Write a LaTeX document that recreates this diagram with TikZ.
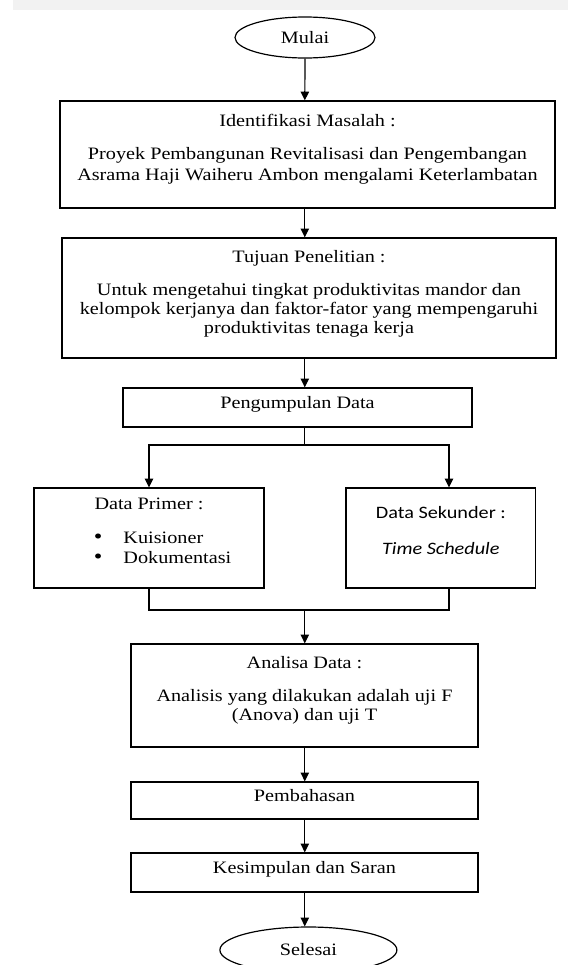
\documentclass[tikz,border=0pt]{standalone}
\usepackage{fontspec}
\setmainfont{Liberation Serif}[FakeStretch=1.16]
\newfontfamily\calibri{Carlito}[FakeStretch=1.16]
\usetikzlibrary{arrows.meta,positioning,shapes.geometric}

\newcommand{\butir}{\makebox[0.74cm][l]{\fontsize{15}{15}\selectfont •}}

\begin{document}
\begin{tikzpicture}[
    x=1cm,
    y=1cm,
    >={Triangle[length=2.2mm,width=2.1mm]},
    box/.style={draw, line width=0.85pt, inner sep=0pt, minimum height=1cm},
    term/.style={draw, ellipse, line width=0.85pt, inner sep=0pt, minimum width=3.5cm, minimum height=1.025cm, font=\fontsize{12.4}{14}\selectfont},
    txt/.style={align=center, inner sep=0pt, font=\fontsize{12.4}{13.8}\selectfont},
    single/.style={box, txt, minimum width=8.675cm, text depth=0.25cm},
    line/.style={->, line width=0.85pt},
    link/.style={line width=0.85pt}
]
\useasboundingbox (0,0) rectangle (14.2,-24.125);
\clip (0,0) rectangle (14.2,-24.125);
\fill[black!5] (0.33,0) rectangle (14.2,-0.25);

\coordinate (spine) at (7.62,0);
\coordinate (rightx) at (11.225,0);
\node[term] (mulai) at (7.625,-0.9375) {Mulai};
\node[box, minimum width=12.375cm, minimum height=2.675cm] (masalah) at (7.6875,-3.8625) {};
\node[txt, below=0.33cm of masalah.north] (masalahtxt) {Identifikasi Masalah :\\[10pt]Proyek Pembangunan Revitalisasi dan Pengembangan\\[1pt]Asrama Haji Waiheru Ambon mengalami Keterlambatan};
\node[box, minimum width=12.35cm, minimum height=3cm] (tujuan) at (7.725,-7.45) {};
\node[txt, below=0.33cm of tujuan.north] (tujuantxt) {Tujuan Penelitian :\\[9pt]Untuk mengetahui tingkat produktivitas mandor dan\\kelompok kerjanya dan faktor-fator yang mempengaruhi\\produktivitas tenaga kerja};
\node[single, minimum width=8.725cm, minimum height=0.975cm] (kumpul) at (7.4375,-10.1875) {Pengumpulan Data};
\coordinate (split) at (7.62,-11.125);
% dua sumber data
\node[box, minimum width=5.75cm, minimum height=2.5cm] (primer) at (3.725,-13.45) {};
\node[txt, below=0.25cm of primer.north] (primertxt) {Data Primer :};
\node[txt, align=left, anchor=north west] (primerlist) at (2.34,-13.3) {\butir Kuisioner\\\butir Dokumentasi};
\node[box, minimum width=4.74cm, minimum height=2.5cm] (sekunder) at (11.02,-13.45) {};
\node[txt, font=\calibri\fontsize{12.4}{14}\selectfont, below=0.48cm of sekunder.north] (sekundertxt) {Data Sekunder :\\[11pt]\textit{Time Schedule}};
\coordinate (merge) at (7.62,-15.25);
\node[box, minimum width=8.675cm, minimum height=2.575cm] (analisa) at (7.6125,-17.3875) {};
\node[txt, below=0.33cm of analisa.north] (analisatxt) {Analisa Data :\\[9pt]Analisis yang dilakukan adalah uji F\\(Anova) dan uji T};
\node[single, minimum height=0.925cm] (bahas) at (7.6125,-20.0125) {Pembahasan};
\node[single, minimum height=0.975cm] (kesimpulan) at (7.6125,-21.8125) {Kesimpulan dan Saran};
\node[term, minimum width=4.425cm, minimum height=1.15cm] (selesai) at (7.71,-23.75) {Selesai};

\draw[line] (mulai.south) -- (spine |- masalah.north);
\draw[line] (spine |- masalah.south) -- (spine |- tujuan.north);
\draw[line] (spine |- tujuan.south) -- (spine |- kumpul.north);
\draw[link] (spine |- kumpul.south) -- (split);
\draw[line] (split) -| (primer.north);
\draw[line] (split) -| (rightx |- sekunder.north);
\draw[link] (primer.south) |- (merge) -| (rightx |- sekunder.south);
\draw[line] (merge) -- (spine |- analisa.north);
\draw[line] (spine |- analisa.south) -- (spine |- bahas.north);
\draw[line] (spine |- bahas.south) -- (spine |- kesimpulan.north);
\draw[line] (spine |- kesimpulan.south) -- (spine |- selesai.north);
\end{tikzpicture}
\end{document}
